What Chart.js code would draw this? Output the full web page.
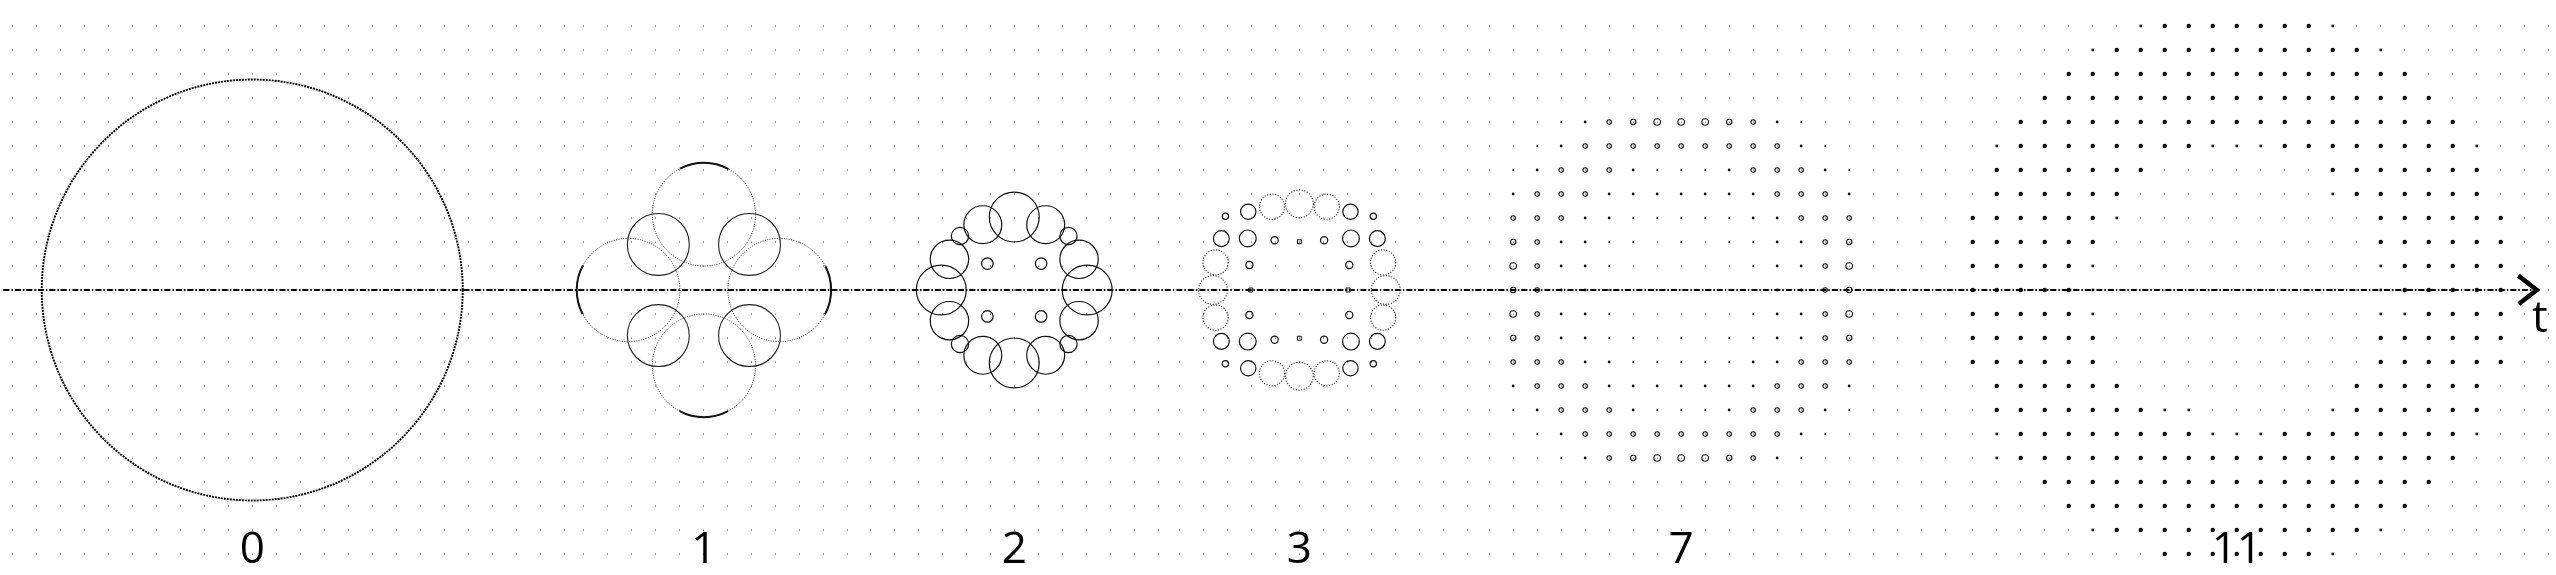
<!DOCTYPE html>
<html>
<head>
  <script src="https://cdn.jsdelivr.net/npm/chart.js"></script>
  <style>
    body { margin: 0; background: #fff; }
    canvas { display: block; }
  </style>
</head>
<body>
  <canvas id="diagram" width="2556" height="575"></canvas>

  <script>
    // times shown under each stage and where each stage sits on the t axis (grid units)
    var tLabels = ['0', '1', '2', '3', '7', '11'];
    var tPos = [10.51, 29.33, 42.26, 54.14, 70.05, 93.2];
    var axisName = 't';

    // circles as [dx, dy, radius] around the stage centre, in grid units
    var ring0 = [[0, 0, 8.77]];
    var g1Outer = [[0, 3.15, 2.15], [-3.15, 0, 2.15], [3.15, 0, 2.15], [0, -3.15, 2.15]];
    var g1Inner = [[-1.9, 1.9, 1.29], [1.9, 1.9, 1.29], [-1.9, -1.9, 1.29], [1.9, -1.9, 1.29]];
    var g2Rings = [
      [0, 3.04, 1.04], [0, -3.04, 1.04], [-3.04, 0, 1.04], [3.04, 0, 1.04],
      [-1.31, 2.72, 0.79], [1.31, 2.72, 0.79], [-1.31, -2.72, 0.79], [1.31, -2.72, 0.79],
      [-2.7, 1.28, 0.8], [2.7, 1.28, 0.8], [-2.7, -1.28, 0.8], [2.7, -1.28, 0.8],
      [-2.26, 2.25, 0.36], [2.26, 2.25, 0.36], [-2.26, -2.25, 0.36], [2.26, -2.25, 0.36],
      [-1.12, 1.1, 0.24], [1.12, 1.1, 0.24], [-1.12, -1.1, 0.24], [1.12, -1.1, 0.24]
    ];
    var g3Dotted = [
      [0, 3.59, 0.58], [0, -3.59, 0.58],
      [-1.14, 3.47, 0.525], [1.14, 3.47, 0.525], [-1.14, -3.47, 0.525], [1.14, -3.47, 0.525],
      [-3.49, 1.15, 0.525], [3.49, 1.15, 0.525], [-3.49, -1.15, 0.525], [3.49, -1.15, 0.525],
      [-3.6, 0, 0.6], [3.6, 0, 0.6]
    ];
    var g3Solid = [
      [-2.13, 3.26, 0.32], [2.13, 3.26, 0.32], [-2.13, -3.26, 0.32], [2.13, -3.26, 0.32],
      [-3.25, 2.14, 0.33], [3.25, 2.14, 0.33], [-3.25, -2.14, 0.33], [3.25, -2.14, 0.33],
      [-3.08, 3.07, 0.13], [3.08, 3.07, 0.13], [-3.08, -3.07, 0.13], [3.08, -3.07, 0.13],
      [-2.15, 2.15, 0.35], [2.15, 2.15, 0.35], [-2.15, -2.15, 0.35], [2.15, -2.15, 0.35],
      [-1.03, 2.07, 0.15], [1.03, 2.07, 0.15], [-1.03, -2.07, 0.15], [1.03, -2.07, 0.15],
      [-2.08, 1.04, 0.15], [2.08, 1.04, 0.15], [-2.08, -1.04, 0.15], [2.08, -1.04, 0.15]
    ];
    var g3Squares = [[0, 2.01], [0, -2.01], [-2.03, 0], [2.03, 0]];

    // stage 7: mark kind per grid node, rows top (+8) to bottom (-8), columns -8..8
    // 0 none, 1 tiny dot, 2 dot, 3 small ring, 4 ring, 5 big ring
    var g7Rows = [
      '00000000000000000',
      '00012345554321000',
      '00123333333332100',
      '01233321112333210',
      '02333222222233320',
      '03332211111223330',
      '04322110101122340',
      '05322100000122350',
      '04322100000122340',
      '05322100000122350',
      '04322110101122340',
      '03332211111223330',
      '02333222222233320',
      '01233321112333210',
      '00123333333332100',
      '00012345554321000',
      '00000000000000000'
    ];
    // stage 11: rows +11..-11, columns -11..11; 0 none, 1 small dot, 2 dot
    var g11Rows = [
      '00000001222222210000000',
      '00000122222222222100000',
      '00002222222222222220000',
      '00022222222222222222000',
      '00222222222222222222200',
      '01222222221112222222210',
      '02222222000000022222220',
      '02222220000000012222220',
      '22222210000000000222222',
      '22222200000000000222222',
      '22222100000000000122222',
      '22222100000000000122222',
      '22222100000000000112222',
      '22222200000000000222222',
      '22222200000000000222222',
      '02222220000000002222220',
      '02222222110000012222220',
      '01222222221112222222210',
      '01222222222222222222200',
      '00022222222222222222000',
      '00002222222222222220000',
      '00000122222222222100000',
      '00000000222222210000000'
    ];

    // axis and arrow head
    var axisLine = [[0.14, 0], [105.6, 0]];
    var arrowHead = [[104.93, 0.6], [105.7, 0], [104.95, -0.58]];

    // background dot grid: each stage panel has its own grid, [from, to] in grid units
    var panelSpan = [[0.3, 23.6], [24.2, 35.8], [35.8, 48.3], [48.3, 61.6], [61.6, 81.3], [81.3, 106.5]];

    document.addEventListener('DOMContentLoaded', function() {
      var canvas = document.getElementById('diagram');

      function unit(chart) {
        return chart.scales.x.getPixelForValue(1) - chart.scales.x.getPixelForValue(0);
      }

      function ringSet(list, stage, extra) {
        var ds = {
          data: list.map(function(c) { return {x: tPos[stage] + c[0], y: c[1], r: c[2]}; }),
          pointRadius: function(c) { return c.raw.r * unit(c.chart); },
          pointBackgroundColor: 'rgba(0,0,0,0)',
          pointBorderColor: '#111',
          pointBorderWidth: 1.2
        };
        return Object.assign(ds, extra || {});
      }

      function nodeSet(rows, stage, kinds, sizes, extra) {
        var half = (rows.length - 1) / 2;
        var pts = [];
        rows.forEach(function(row, r) {
          var mid = (row.length - 1) / 2;
          for (var i = 0; i < row.length; i++) {
            var k = +row[i];
            if (kinds.indexOf(k) >= 0) {
              pts.push({x: tPos[stage] + i - mid, y: half - r, k: k});
            }
          }
        });
        return Object.assign({
          data: pts,
          pointRadius: function(c) { return sizes[c.raw.k]; },
          pointBorderColor: '#111',
          pointBackgroundColor: '#111',
          pointBorderWidth: 0
        }, extra || {});
      }

      var datasets = [];

      // t axis on top of everything
      datasets.push({
        data: axisLine.map(function(p) { return {x: p[0], y: p[1]}; }),
        showLine: true, borderColor: '#000', borderWidth: 2,
        borderDash: [6, 2, 1.5, 2], pointRadius: 0
      });
      datasets.push({
        data: arrowHead.map(function(p) { return {x: p[0], y: p[1]}; }),
        showLine: true, borderColor: '#000', borderWidth: 4.5,
        borderJoinStyle: 'miter', borderCapStyle: 'butt', pointRadius: 0
      });

      // stage 0
      datasets.push(ringSet(ring0, 0, {pointBorderColor: '#000', pointBorderWidth: 1.9, ringDash: [[2, 1], 0]}));

      // stage 1: bold arcs on the outer side of the four dotted circles
      g1Outer.forEach(function(c) {
        var dir = Math.atan2(-c[1], c[0]);
        datasets.push(ringSet([c], 1, {
          pointBorderColor: '#111',
          pointBorderWidth: 2,
          ringDash: function(chart) {
            var R = c[2] * unit(chart), C = 2 * Math.PI * R, span = 28 * Math.PI / 180;
            var a = 2 * span * R;
            var start = ((dir - span) % (2 * Math.PI) + 2 * Math.PI) % (2 * Math.PI);
            return [[a, C - a], C - start * R];
          }
        }));
      });
      datasets.push(ringSet(g1Outer, 1, {pointBorderColor: '#222', pointBorderWidth: 1, ringDash: [[1, 1.4], 0]}));
      datasets.push(ringSet(g1Inner, 1, {pointBorderColor: '#222', pointBorderWidth: 1.1}));

      // stage 2
      datasets.push(ringSet(g2Rings, 2, {pointBorderWidth: 1.2}));

      // stage 3
      datasets.push(ringSet(g3Dotted, 3, {pointBorderColor: '#222', pointBorderWidth: 1.1, ringDash: [[1.1, 1.6], 0]}));
      datasets.push(ringSet(g3Solid, 3, {pointBorderWidth: 1.2}));
      datasets.push({
        data: g3Squares.map(function(c) { return {x: tPos[3] + c[0], y: c[1]}; }),
        pointStyle: 'rect', pointRadius: 2.8, pointBorderColor: '#111',
        pointBackgroundColor: 'rgba(0,0,0,0)', pointBorderWidth: 1
      });

      // stage 7
      datasets.push(nodeSet(g7Rows, 4, [3, 4, 5], {3: 2.2, 4: 2.7, 5: 3.3},
        {pointBackgroundColor: 'rgba(0,0,0,0)', pointBorderWidth: 1.1}));
      datasets.push(nodeSet(g7Rows, 4, [1, 2], {1: 0.9, 2: 1.4}));

      // stage 11
      datasets.push(nodeSet(g11Rows, 5, [1, 2], {1: 1.4, 2: 2.2}));

      // set a line dash around the points of one dataset
      var ringDashPlugin = {
        id: 'ringDash',
        beforeDatasetDraw: function(chart, args) {
          var ds = chart.data.datasets[args.index];
          if (!ds.ringDash) return;
          var d = typeof ds.ringDash === 'function' ? ds.ringDash(chart) : ds.ringDash;
          chart.ctx.save();
          chart.ctx.setLineDash(d[0]);
          chart.ctx.lineDashOffset = d[1];
        },
        afterDatasetDraw: function(chart, args) {
          if (chart.data.datasets[args.index].ringDash) chart.ctx.restore();
        }
      };

      // stage times under each picture and the axis name
      var textPlugin = {
        id: 'texts',
        afterDatasetsDraw: function(chart) {
          var ctx = chart.ctx, x = chart.scales.x, y = chart.scales.y;
          ctx.save();
          ctx.fillStyle = '#000';
          ctx.font = '44px "Open Sans"';
          ctx.textAlign = 'center';
          ctx.textBaseline = 'alphabetic';
          tLabels.forEach(function(t, i) {
            ctx.fillText(t, x.getPixelForValue(tPos[i]), y.getPixelForValue(-11.375));
          });
          ctx.fillText(axisName, x.getPixelForValue(105.83), y.getPixelForValue(-1.75));
          ctx.restore();
        }
      };

      new Chart(canvas, {
        type: 'scatter',
        data: { datasets: datasets },
        options: {
          responsive: false,
          animation: false,
          events: [],
          layout: { padding: { top: 14, bottom: 10, left: 0, right: 0 }, autoPadding: false },
          plugins: { legend: { display: false }, tooltip: { enabled: false } },
          scales: {
            x: {
              type: 'linear', min: 0, max: 106.5,
              ticks: { display: false },
              grid: { color: 'rgba(0,0,0,0.6)', lineWidth: 1, drawTicks: false },
              border: { display: false, dash: [1.2, 22.8], dashOffset: -11.5 },
              afterBuildTicks: function(axis) {
                var ticks = [];
                panelSpan.forEach(function(span, g) {
                  var c = tPos[g];
                  for (var k = Math.ceil(span[0] - c); c + k <= span[1]; k++) {
                    ticks.push({ value: c + k });
                  }
                });
                axis.ticks = ticks;
              }
            },
            y: { type: 'linear', display: false, min: -11.4583, max: 11.5 }
          }
        },
        plugins: [ringDashPlugin, textPlugin]
      });
    });
  </script>
</body>
</html>
